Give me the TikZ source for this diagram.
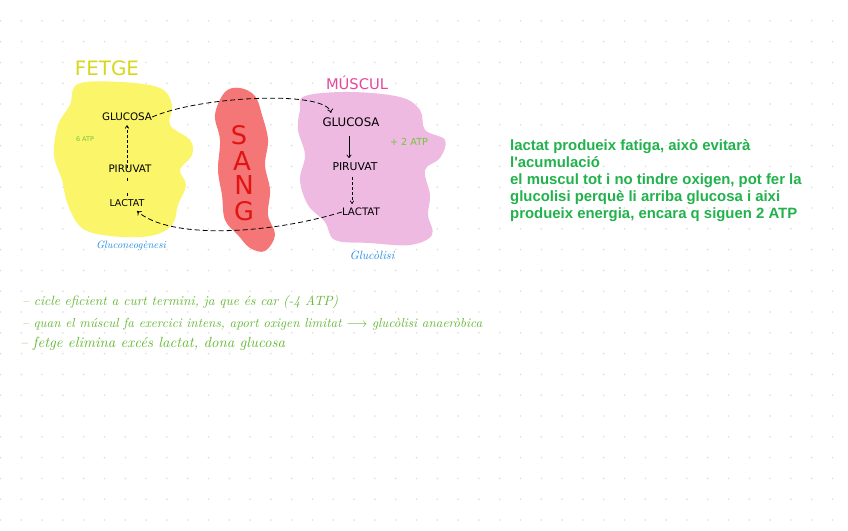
\documentclass[tikz,border=0pt]{standalone}
\usepackage{fontspec}
\usepackage{graphicx}
\usetikzlibrary{arrows.meta}
\newfontfamily\arialf{Liberation Sans}
\newfontfamily\djv{DejaVu Sans}
\definecolor{gridc}{RGB}{222,222,222}
\definecolor{yblob}{RGB}{250,245,105}
\definecolor{rblob}{RGB}{245,118,118}
\definecolor{pblob}{RGB}{238,186,226}
\definecolor{fetgec}{RGB}{215,215,30}
\definecolor{musc}{RGB}{232,70,155}
\definecolor{sangc}{RGB}{225,20,20}
\definecolor{bluec}{RGB}{30,140,230}
\definecolor{atpc}{RGB}{120,195,60}
\definecolor{notec}{RGB}{100,185,50}
\definecolor{rtext}{RGB}{34,178,76}
\newcommand{\fitw}[2]{\resizebox{#1pt}{!}{#2}}
\newcommand{\fith}[2]{\resizebox{!}{#1pt}{#2}}
\tikzset{
  lbl/.style={inner sep=0pt, anchor=center, font=\djv},
  conn/.style={line width=0.8pt, dash pattern=on 5pt off 3pt},
  inarrow/.style={line width=0.7pt, -{To[length=3.5pt,width=4pt]}},
  note/.style={inner sep=0pt, anchor=west, text=notec, font=\itshape},
}
\begin{document}
\begin{tikzpicture}[x=1pt,y=-1pt]
\useasboundingbox (0,0) rectangle (848,530);
\fill[white] (0,0) rectangle (848,530);
% dot grid
\foreach \i in {0,...,40}{
  \foreach \j in {1,...,25}{
    \fill[gridc] ({\i*20.8+0.5},{\j*20.8}) circle (0.9);
  }
}
% blobs
\fill[yblob] plot[smooth cycle, tension=0.6] coordinates {
 (78,84) (120,82) (160,88) (172,105) (170,125) (190,140) (192,155) (180,170)
 (186,185) (178,205) (172,225) (150,236) (110,236) (82,228) (68,205) (62,180)
 (54,155) (58,125) (70,105)};
\fill[rblob] plot[smooth cycle, tension=0.6] coordinates {
 (225,92) (240,88) (255,96) (262,115) (268,140) (265,165) (270,190) (268,215)
 (275,235) (265,251) (250,248) (238,235) (225,220) (222,195) (218,170) (220,140) (215,115)};
\fill[pblob] plot[smooth cycle, tension=0.6] coordinates {
 (305,96) (350,92) (400,97) (420,110) (425,130) (445,140) (440,158) (425,170)
 (430,195) (428,215) (432,235) (410,245) (370,243) (335,240) (325,222) (308,205)
 (300,180) (305,155) (298,130) (300,110)};
% titles
\node[lbl, text=fetgec] (fetge) at (107,68) {\fitw{64}{FETGE}};
\node[lbl, text=musc] (muscul) at (357,83) {\fitw{62}{MÚSCUL}};
% SANG
\node[lbl, text=sangc] (s) at (239,135) {\fith{19}{S}};
\node[lbl, text=sangc] (a) at (242,161) {\fith{19}{A}};
\node[lbl, text=sangc] (n) at (244,185) {\fith{19}{N}};
\node[lbl, text=sangc] (g) at (244,211) {\fith{19}{G}};
% liver
\node[lbl] (lg) at (127,117) {\fitw{50}{GLUCOSA}};
\node[lbl, text=atpc] (l6) at (85,139) {\fitw{18}{6 ATP}};
\node[lbl] (lp) at (130,169) {\fitw{43}{PIRUVAT}};
\node[lbl] (ll) at (127,203) {\fitw{35}{LACTAT}};
\node[lbl, text=bluec, font=\itshape] (gng) at (131,246) {\fitw{70}{Gluconeogènesi}};
\draw[inarrow, dash pattern=on 3pt off 2pt] ([yshift=-3pt]lp.north -| lg.south) -- ([yshift=-4pt]lg.south);
\draw[line width=0.7pt, dash pattern=on 3pt off 12pt] ([yshift=-5pt]lp.south -| lg.south) -- ([yshift=3pt]ll.north -| lg.south);
% muscle
\node[lbl] (mg) at (351,122) {\fitw{57}{GLUCOSA}};
\node[lbl, text=atpc] (m2) at (409,142) {\fitw{38}{+ 2 ATP}};
\node[lbl] (mp) at (355,167) {\fitw{45}{PIRUVAT}};
\node[lbl] (ml) at (361,212) {\fitw{38}{LACTAT}};
\node[lbl, text=bluec, font=\itshape] (glc) at (372,255) {\fitw{45}{Glucòlisi}};
\draw[line width=0.7pt, -{To[length=3.5pt,width=5pt]}] (349,136) -- (349,158);
\draw[inarrow, dash pattern=on 3pt off 2pt] (352,177) -- (352,204);
% connectors (blood circuit)
\draw[conn, -{To[length=4pt,width=6pt]}] (lg.east) .. controls (200,96) and (326,90) .. (331,113);
\draw[conn, -{To[length=4pt,width=6pt]}] (ml.west) .. controls (270,234) and (170,240) .. (137,211);
% right text
\node[inner sep=0pt, anchor=north west, align=left, text=rtext,
      font=\arialf\bfseries\fontsize{14.9}{17.2}\selectfont] (rt) at (510,139)
 {lactat produeix fatiga, això evitarà\\
  l'acumulació\\
  el muscul tot i no tindre oxigen, pot fer la\\
  glucolisi perquè li arriba glucosa i aixi\\
  produeix energia, encara q siguen 2 ATP};
% handwritten notes
\node[note] (n1) at (22,302) {\fitw{316}{– cicle eficient a curt termini, ja que és car (-4 ATP)}};
\node[note] (n2) at (22,324) {\fitw{460}{– quan el múscul fa exercici intens, aport oxigen limitat $\longrightarrow$ glucòlisi anaeròbica}};
\node[note] (n3) at (20,344) {\fitw{265}{– fetge elimina excés lactat, dona glucosa}};
\end{tikzpicture}
\end{document}
